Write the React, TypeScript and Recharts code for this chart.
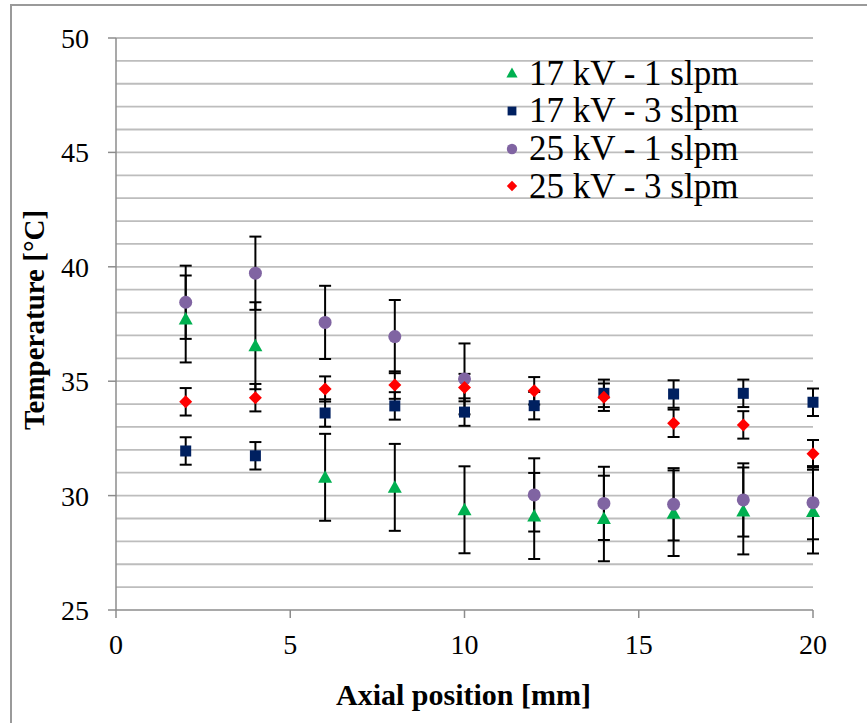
import {
  ScatterChart,
  Scatter,
  XAxis,
  YAxis,
  ErrorBar,
  ReferenceLine,
  Label,
} from "recharts";

const positions = [2, 4, 6, 8, 10, 12, 14, 16, 18, 20];

const kv17Slpm1 = [37.72, 36.55, 30.8, 30.36, 29.38, 29.11, 29.0, 29.23, 29.33, 29.3];
const kv17Slpm1Err = [1.9, 1.9, 1.9, 1.9, 1.9, 1.88, 1.87, 1.87, 1.9, 1.83];

const kv17Slpm3 = [31.95, 31.74, 33.61, 33.92, 33.65, 33.93, 34.47, 34.44, 34.47, 34.08];
const kv17Slpm3Err = [0.6, 0.6, 0.6, 0.6, 0.6, 0.6, 0.6, 0.6, 0.6, 0.6];

const kv25Slpm1 = [38.45, 39.72, 37.57, 36.95, 35.1, 30.03, 29.66, 29.62, 29.81, 29.69];
const kv25Slpm1Err = [1.6, 1.6, 1.6, 1.6, 1.55, 1.6, 1.6, 1.58, 1.6, 1.6];

const kv25Slpm3 = [34.1, 34.28, 34.66, 34.83, 34.72, 34.58, 34.3, 33.16, 33.09, 31.83];
const kv25Slpm3Err = [0.6, 0.6, 0.55, 0.6, 0.6, 0.6, 0.6, 0.6, 0.6, 0.6];

const xTicks = [0, 5, 10, 15, 20];
const yTicks = [25, 30, 35, 40, 45, 50];
const gridValues = [
  26, 27, 28, 29, 30, 31, 32, 33, 34, 35, 36, 37, 38,
  39, 40, 41, 42, 43, 44, 45, 46, 47, 48, 49, 50,
];

const FONT = '"Liberation Serif", "Times New Roman", serif';
const AXIS_GRAY = "#8c8c8c";

type ShapeKind = "triangle" | "square" | "circle" | "diamond";

function Marker({ kind, cx, cy, color, s = 1 }: { kind: ShapeKind; cx: number; cy: number; color: string; s?: number }) {
  if (kind === "triangle") {
    const pts = `${cx},${cy - 7 * s} ${cx + 7 * s},${cy + 5.5 * s} ${cx - 7 * s},${cy + 5.5 * s}`;
    return <polygon points={pts} fill={color} />;
  }
  if (kind === "square") {
    return <rect x={cx - 5.5 * s} y={cy - 5.5 * s} width={11 * s} height={11 * s} fill={color} />;
  }
  if (kind === "circle") {
    return <circle cx={cx} cy={cy} r={6.5 * s} fill={color} />;
  }
  const pts = `${cx},${cy - 6.5 * s} ${cx + 6.5 * s},${cy} ${cx},${cy + 6.5 * s} ${cx - 6.5 * s},${cy}`;
  return <polygon points={pts} fill={color} />;
}

const toPoints = (vals: number[], errs: number[]) =>
  positions.map((x, i) => ({ x, y: vals[i], err: errs[i] }));

const series = [
  { name: "17 kV - 1 slpm", color: "#00b050", kind: "triangle" as ShapeKind, data: toPoints(kv17Slpm1, kv17Slpm1Err) },
  { name: "17 kV - 3 slpm", color: "#002060", kind: "square" as ShapeKind, data: toPoints(kv17Slpm3, kv17Slpm3Err) },
  { name: "25 kV - 1 slpm", color: "#8064a2", kind: "circle" as ShapeKind, data: toPoints(kv25Slpm1, kv25Slpm1Err) },
  { name: "25 kV - 3 slpm", color: "#ff0000", kind: "diamond" as ShapeKind, data: toPoints(kv25Slpm3, kv25Slpm3Err) },
];

function LegendBox() {
  return (
    <div style={{ position: "absolute", left: 500, top: 54.5, fontFamily: FONT, fontSize: 35, color: "#000" }}>
      {series.map((s) => (
        <div key={s.name} style={{ display: "flex", alignItems: "center", height: 37.7, lineHeight: "37.7px" }}>
          <svg width={24} height={20} style={{ marginRight: 5 }}>
            <Marker kind={s.kind} cx={12} cy={10} color={s.color} s={0.8} />
          </svg>
          <span style={{ whiteSpace: "nowrap" }}>{s.name}</span>
        </div>
      ))}
    </div>
  );
}

export default function App() {
  return (
    <div style={{ position: "absolute", left: 0, top: 0, width: 867, height: 723, overflow: "hidden", background: "#fff", fontFamily: FONT }}>
      <div
        style={{
          position: "absolute",
          left: 10,
          top: 4,
          width: 900,
          height: 800,
          border: "2px solid #9a9a9a",
        }}
      />
      <div style={{ position: "absolute", left: 0, top: 0 }}>
        <ScatterChart
          width={867}
          height={723}
          margin={{ top: 38, right: 54, bottom: 53, left: 16 }}
          style={{ fontFamily: FONT }}
        >
          {gridValues.map((v) => (
            <ReferenceLine key={v} y={v} stroke="#bdbdbd" strokeWidth={1.8} />
          ))}
          <XAxis
            type="number"
            dataKey="x"
            domain={[0, 20]}
            ticks={xTicks}
            height={60}
            tickSize={8}
            tickMargin={16}
            stroke={AXIS_GRAY}
            strokeWidth={1.5}
            tick={{ fontSize: 28, fill: "#000", fontFamily: FONT }}
          >
            <Label
              content={(p: any) => {
                const vb = p.viewBox;
                return (
                  <text
                    x={vb.x + vb.width / 2 - 1}
                    y={vb.y + 95}
                    textAnchor="middle"
                    fontFamily={FONT}
                    fontWeight="bold"
                    fontSize={30}
                    fill="#000"
                  >
                    Axial position [mm]
                  </text>
                );
              }}
            />
          </XAxis>
          <YAxis
            type="number"
            dataKey="y"
            domain={[25, 50]}
            ticks={yTicks}
            width={100}
            tickSize={8}
            tickMargin={19}
            stroke={AXIS_GRAY}
            strokeWidth={1.5}
            tick={{ fontSize: 28, fill: "#000", fontFamily: FONT }}
          >
            <Label
              content={(p: any) => {
                const vb = p.viewBox;
                const cy = vb.y + vb.height / 2 - 4;
                return (
                  <text
                    x={0}
                    y={0}
                    transform={`translate(${vb.x + 28}, ${cy}) rotate(-90)`}
                    textAnchor="middle"
                    fontFamily={FONT}
                    fontWeight="bold"
                    fontSize={29}
                    fill="#000"
                  >
                    Temperature [°C]
                  </text>
                );
              }}
            />
          </YAxis>
          {series.map((s) => (
            <Scatter
              key={s.name}
              name={s.name}
              data={s.data}
              isAnimationActive={false}
              shape={(props: any) => <Marker kind={s.kind} cx={props.cx} cy={props.cy} color={s.color} />}
            >
              <ErrorBar dataKey="err" direction="y" width={6} stroke="#000" strokeWidth={2} />
            </Scatter>
          ))}
        </ScatterChart>
      </div>
      <LegendBox />
    </div>
  );
}
